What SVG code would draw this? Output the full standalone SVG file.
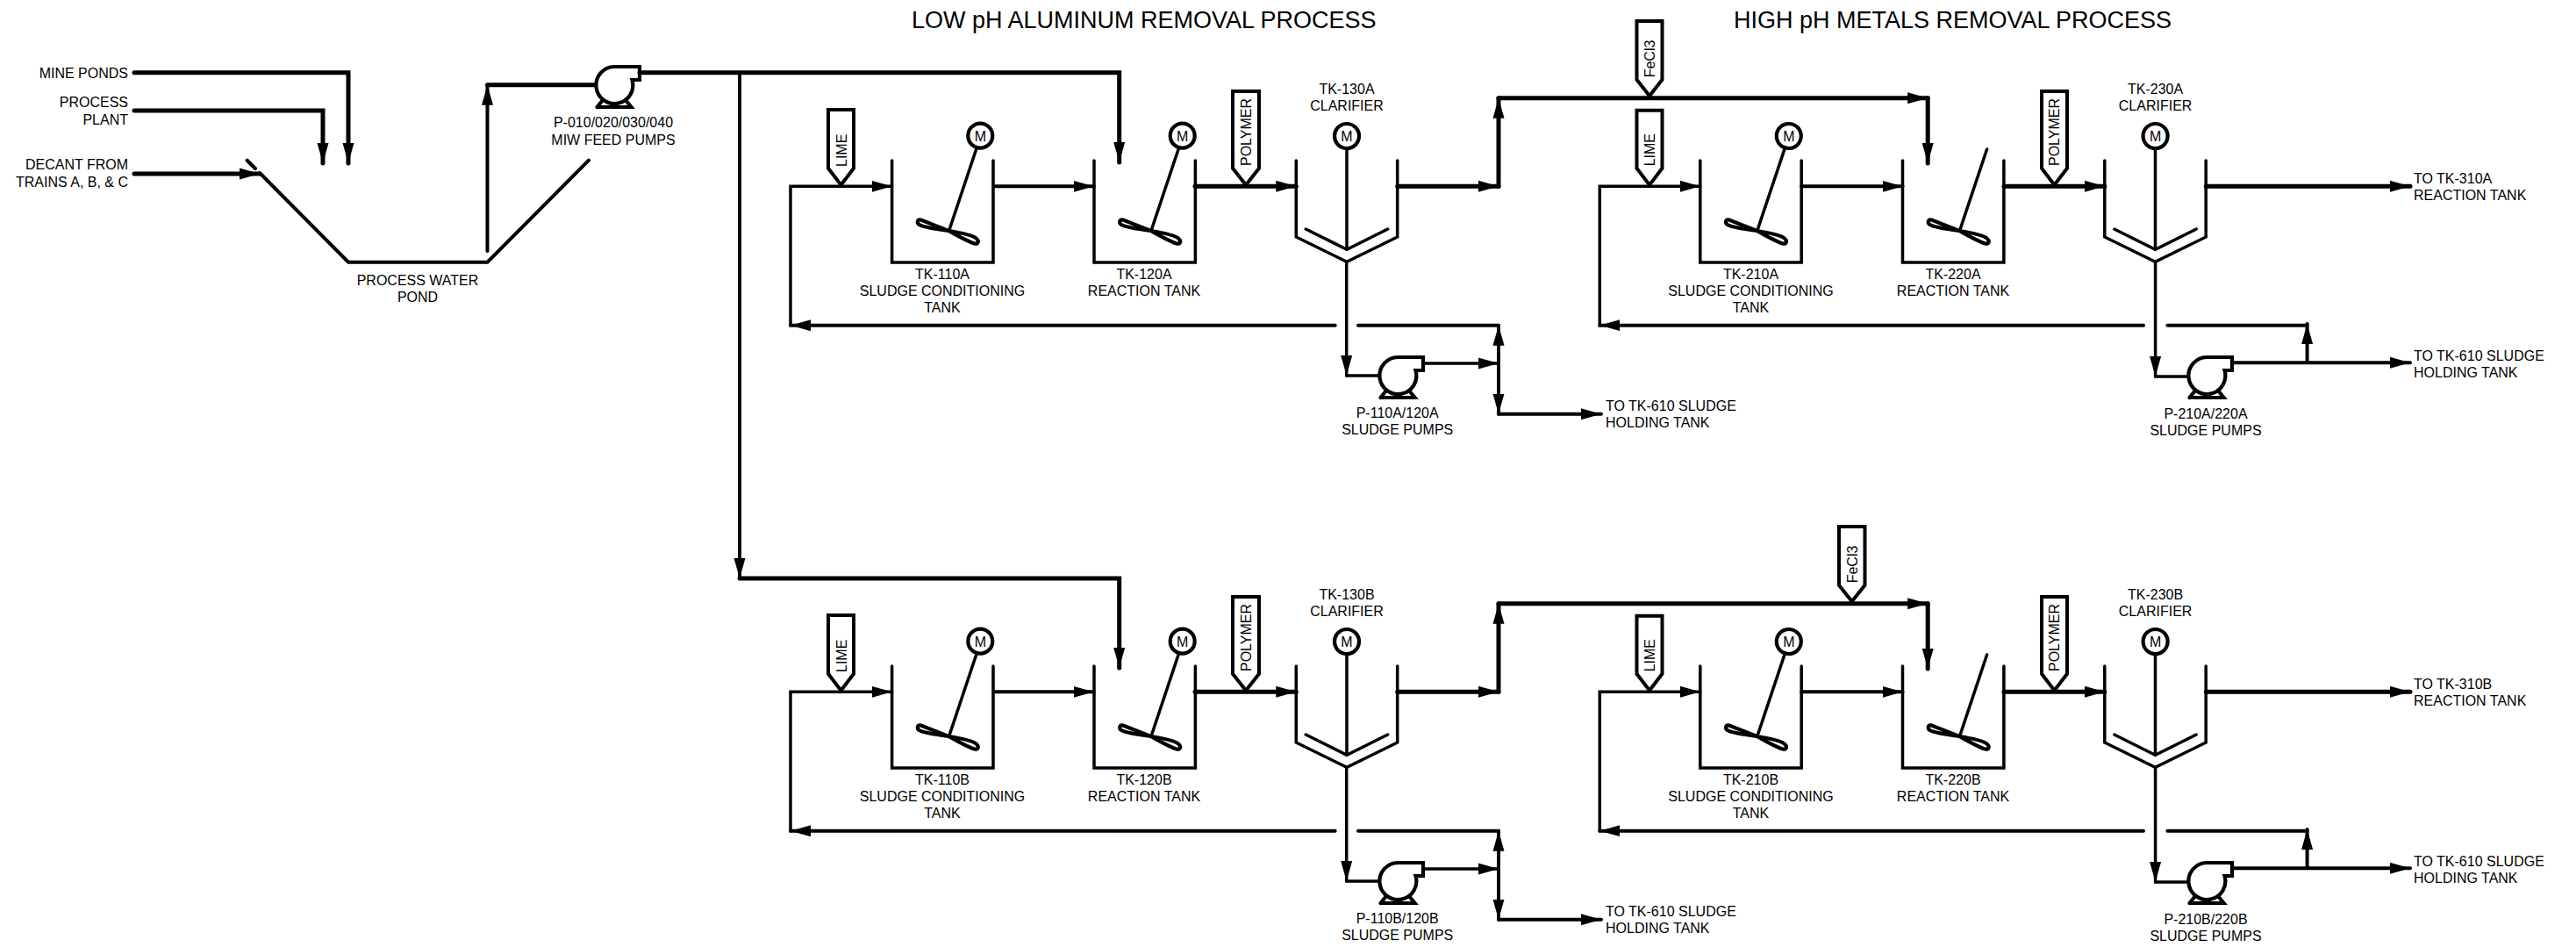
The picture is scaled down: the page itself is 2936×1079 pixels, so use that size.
<svg xmlns="http://www.w3.org/2000/svg" width="2936" height="1079" viewBox="0 0 2936 1079">
<style>
text{font-family:"Liberation Sans",Arial,sans-serif;font-size:16px;fill:#000}
.c{text-anchor:middle}.r{text-anchor:end}.t{font-size:27px}.m{font-size:16px;text-anchor:middle}
.s,.b,.w3,.w4,.w5{fill:none;stroke:#000;stroke-linecap:round;stroke-linejoin:miter}
.s{stroke-width:3.5}.b{stroke-width:4.2}.w3{stroke-width:3.5}.w4{stroke-width:4}.w5{stroke-width:5}
.a{marker-end:url(#arrow)}
.tag{fill:#fff;stroke:#000;stroke-width:4;stroke-linejoin:miter}
</style>
<defs>
<marker id="arrow" markerUnits="userSpaceOnUse" markerWidth="24" markerHeight="14" refX="23" refY="7" orient="auto"><path d="M0 0.5L23 7L0 13.5Z" fill="#000"/></marker>
<g id="tank"><path class="s" d="M0 0V116H115.4V0"/><path class="s" d="M96.1 -13L65.1 79.7"/><path class="b" d="M64.6 80L33 67.5C29 66.5 28 71 31 73C35 75.5 50 78 64.6 80C74 81.5 92 85 96 88.5C100 92 98 95.5 94 94.5C88 93 74 85 64.6 80Z"/></g>
<g id="clarifier"><path class="s" d="M0 0V87L57.7 115.3L115.4 87V0"/><path class="s" d="M11 78L57.7 101.3L104.4 78"/><path class="s" d="M57.7 -13V101"/></g>
<circle id="motor" class="b" r="14"/>
<g id="pump"><path class="b" d="M0 -21H29V-6H20.5A21 21 0 1 1 0 -21"/><path class="b" d="M-19.5 25H19.5L13 17M-19.5 25L-13 17"/></g>
</defs>
<rect width="2936" height="1079" fill="#fff"/>
<text class="t" x="1039" y="31.7">LOW pH ALUMINUM REMOVAL PROCESS</text>
<text class="t" x="1976" y="31.7">HIGH pH METALS REMOVAL PROCESS</text>

<g id="connectors">
<g id="feed">
<path class="w5 a" d="M153 82.7H397V186"/>
<path class="w5 a" d="M153 126H368V186"/>
<path class="w5 a" d="M153 198H296"/>
<path class="w4 a" d="M555.5 286V96.7"/>
<path class="w5" d="M555.5 96.7H678"/>
<path class="w5 a" d="M729 82.7H1275.7V185"/>
<path class="w4 a" d="M843 83V659"/>
<path class="w5 a" d="M843 659H1275.7V761"/>
</g>
<g id="row-a">
<path class="w3 a" d="M901 371V212.3H1016.6"/>
<path class="w4 a" d="M1134.5 212.3H1246.6"/>
<path class="w5 a" d="M1362 212.3H1477.3"/>
<path class="w5 a" d="M1592.7 212.3H1708"/>
<path class="w5 a" d="M1708 212.3V111.7"/>
<path class="w5 a" d="M1708 111.7H2197.2"/>
<path class="w5 a" d="M2197.2 111.7V186"/>
<path class="w3 a" d="M1534.7 298V428"/>
<path class="w3" d="M1534.7 428H1571"/>
<path class="w3 a" d="M1622 414H1708"/>
<path class="w4 a" d="M1708 414V370.7"/>
<path class="w4 a" d="M1708 414V471.7"/>
<path class="w4 a" d="M1708 471.7H1825"/>
<path class="w4" d="M1708 370.7H1548"/>
<path class="w4 a" d="M1521.7 370.7H901"/>
<path class="w3 a" d="M1823.3 371V212.3H1937.8"/>
<path class="w4 a" d="M2053.3 212.3H2168.5"/>
<path class="w5 a" d="M2284 212.3H2398.8"/>
<path class="w5 a" d="M2514.4 212.3H2747"/>
<path class="w3 a" d="M2456.6 298V429"/>
<path class="w3" d="M2456.6 429H2492"/>
<path class="w4 a" d="M2544 413.3H2747"/>
<path class="w4 a" d="M2629.6 413.3V369"/>
<path class="w4" d="M2629.6 370.7H2470.4"/>
<path class="w4 a" d="M2443 370.7H1823.3"/>
</g>
<g id="row-b" transform="translate(0 576)">
<path class="w3 a" d="M901 371V212.3H1016.6"/>
<path class="w4 a" d="M1134.5 212.3H1246.6"/>
<path class="w5 a" d="M1362 212.3H1477.3"/>
<path class="w5 a" d="M1592.7 212.3H1708"/>
<path class="w5 a" d="M1708 212.3V111.7"/>
<path class="w5 a" d="M1708 111.7H2197.2"/>
<path class="w5 a" d="M2197.2 111.7V186"/>
<path class="w3 a" d="M1534.7 298V428"/>
<path class="w3" d="M1534.7 428H1571"/>
<path class="w3 a" d="M1622 414H1708"/>
<path class="w4 a" d="M1708 414V370.7"/>
<path class="w4 a" d="M1708 414V471.7"/>
<path class="w4 a" d="M1708 471.7H1825"/>
<path class="w4" d="M1708 370.7H1548"/>
<path class="w4 a" d="M1521.7 370.7H901"/>
<path class="w3 a" d="M1823.3 371V212.3H1937.8"/>
<path class="w4 a" d="M2053.3 212.3H2168.5"/>
<path class="w5 a" d="M2284 212.3H2398.8"/>
<path class="w5 a" d="M2514.4 212.3H2747"/>
<path class="w3 a" d="M2456.6 298V429"/>
<path class="w3" d="M2456.6 429H2492"/>
<path class="w4 a" d="M2544 413.3H2747"/>
<path class="w4 a" d="M2629.6 413.3V369"/>
<path class="w4" d="M2629.6 370.7H2470.4"/>
<path class="w4 a" d="M2443 370.7H1823.3"/>
</g>
</g>

<g id="source-labels">
<text class="r" x="146" y="88.7">MINE PONDS</text>
<text class="r" x="146" y="122">PROCESS</text>
<text class="r" x="146" y="142">PLANT</text>
<text class="r" x="146" y="193.3">DECANT FROM</text>
<text class="r" x="146" y="212.7">TRAINS A, B, &amp; C</text>
</g>
<g id="pond">
<path class="b" d="M281.7 182.7L291 192"/>
<path class="w4" d="M296 197L397 298.7H555.5L671 182.7"/>
<text class="c" x="476" y="325">PROCESS WATER</text>
<text class="c" x="476" y="344">POND</text>
</g>
<g id="P-010"><use href="#pump" x="700" y="97"/>
<text class="c" x="699" y="145">P-010/020/030/040</text>
<text class="c" x="699" y="165">MIW FEED PUMPS</text></g>

<!-- Row A -->
<g id="tag-lime-110A"><path class="tag" d="M944 125H973V191.7L958.5 210.7L944 191.7Z"/><text transform="translate(964.5 190) rotate(-90)">LIME</text></g>
<g id="TK-110A"><use href="#tank" x="1016.6" y="183"/><use href="#motor" x="1117.3" y="154.7"/><text class="m" x="1117.3" y="160.5">M</text>
<text class="c" x="1074" y="318.3">TK-110A</text><text class="c" x="1074" y="337.3">SLUDGE CONDITIONING</text><text class="c" x="1074" y="356">TANK</text></g>
<g id="TK-120A"><use href="#tank" x="1247" y="183"/><use href="#motor" x="1347.7" y="154.7"/><text class="m" x="1347.7" y="160.5">M</text>
<text class="c" x="1304" y="318.3">TK-120A</text><text class="c" x="1304" y="337.3">REACTION TANK</text></g>
<g id="tag-polymer-120A"><path class="tag" d="M1405 104H1435V191.7L1420 210.7L1405 191.7Z"/><text transform="translate(1425.5 189) rotate(-90)">POLYMER</text></g>
<g id="TK-130A"><use href="#clarifier" x="1477.3" y="183"/><use href="#motor" x="1535" y="155"/><text class="m" x="1535" y="160.8">M</text>
<text class="c" x="1535" y="106.7">TK-130A</text><text class="c" x="1535" y="126">CLARIFIER</text></g>
<g id="P-110A"><use href="#pump" x="1593" y="428"/>
<text class="c" x="1592.7" y="476">P-110A/120A</text><text class="c" x="1592.7" y="495.3">SLUDGE PUMPS</text></g>
<g id="to-TK-610-110A"><text x="1830" y="468">TO TK-610 SLUDGE</text><text x="1830" y="486.7">HOLDING TANK</text></g>
<g id="tag-fecl3-A"><path class="tag" d="M1865.5 24H1894.5V90.7L1880 109.3L1865.5 90.7Z"/><text transform="translate(1886 88.3) rotate(-90)">FeCl3</text></g>
<g id="tag-lime-210A"><path class="tag" d="M1865.5 125.7H1894.5V191.7L1880 210.7L1865.5 191.7Z"/><text transform="translate(1886 189.3) rotate(-90)">LIME</text></g>
<g id="TK-210A"><use href="#tank" x="1937.8" y="183"/><use href="#motor" x="2038.8" y="155"/><text class="m" x="2038.8" y="160.8">M</text>
<text class="c" x="1995.5" y="318.3">TK-210A</text><text class="c" x="1995.5" y="337.3">SLUDGE CONDITIONING</text><text class="c" x="1995.5" y="356">TANK</text></g>
<g id="TK-220A"><use href="#tank" x="2168.5" y="183"/>
<text class="c" x="2226" y="318.3">TK-220A</text><text class="c" x="2226" y="337.3">REACTION TANK</text></g>
<g id="tag-polymer-220A"><path class="tag" d="M2327 104H2356V191.7L2341.5 210.7L2327 191.7Z"/><text transform="translate(2347 189) rotate(-90)">POLYMER</text></g>
<g id="TK-230A"><use href="#clarifier" x="2398.8" y="183"/><use href="#motor" x="2456.6" y="155"/><text class="m" x="2456.6" y="160.8">M</text>
<text class="c" x="2456.6" y="106.7">TK-230A</text><text class="c" x="2456.6" y="126">CLARIFIER</text></g>
<g id="P-210A"><use href="#pump" x="2515" y="428"/>
<text class="c" x="2514" y="476.7">P-210A/220A</text><text class="c" x="2514" y="496">SLUDGE PUMPS</text></g>
<g id="to-TK-310A"><text x="2751" y="209">TO TK-310A</text><text x="2751" y="228">REACTION TANK</text></g>
<g id="to-TK-610-210A"><text x="2751" y="410.7">TO TK-610 SLUDGE</text><text x="2751" y="430">HOLDING TANK</text></g>

<!-- Row B -->
<g id="tag-lime-110B"><path class="tag" d="M944 701H973V767.7L958.5 786.7L944 767.7Z"/><text transform="translate(964.5 766) rotate(-90)">LIME</text></g>
<g id="TK-110B"><use href="#tank" x="1016.6" y="759"/><use href="#motor" x="1117.3" y="730.7"/><text class="m" x="1117.3" y="736.5">M</text>
<text class="c" x="1074" y="894.3">TK-110B</text><text class="c" x="1074" y="913.3">SLUDGE CONDITIONING</text><text class="c" x="1074" y="932">TANK</text></g>
<g id="TK-120B"><use href="#tank" x="1247" y="759"/><use href="#motor" x="1347.7" y="730.7"/><text class="m" x="1347.7" y="736.5">M</text>
<text class="c" x="1304" y="894.3">TK-120B</text><text class="c" x="1304" y="913.3">REACTION TANK</text></g>
<g id="tag-polymer-120B"><path class="tag" d="M1405 680H1435V767.7L1420 786.7L1405 767.7Z"/><text transform="translate(1425.5 765) rotate(-90)">POLYMER</text></g>
<g id="TK-130B"><use href="#clarifier" x="1477.3" y="759"/><use href="#motor" x="1535" y="731"/><text class="m" x="1535" y="736.8">M</text>
<text class="c" x="1535" y="682.7">TK-130B</text><text class="c" x="1535" y="702">CLARIFIER</text></g>
<g id="P-110B"><use href="#pump" x="1593" y="1004"/>
<text class="c" x="1592.7" y="1052">P-110B/120B</text><text class="c" x="1592.7" y="1071.3">SLUDGE PUMPS</text></g>
<g id="to-TK-610-110B"><text x="1830" y="1044">TO TK-610 SLUDGE</text><text x="1830" y="1062.7">HOLDING TANK</text></g>
<g id="tag-fecl3-B"><path class="tag" d="M2096 600H2125.5V666.7L2110.7 685.3L2096 666.7Z"/><text transform="translate(2116.6 664.3) rotate(-90)">FeCl3</text></g>
<g id="tag-lime-210B"><path class="tag" d="M1865.5 701.7H1894.5V767.7L1880 786.7L1865.5 767.7Z"/><text transform="translate(1886 765.3) rotate(-90)">LIME</text></g>
<g id="TK-210B"><use href="#tank" x="1937.8" y="759"/><use href="#motor" x="2038.8" y="731"/><text class="m" x="2038.8" y="736.8">M</text>
<text class="c" x="1995.5" y="894.3">TK-210B</text><text class="c" x="1995.5" y="913.3">SLUDGE CONDITIONING</text><text class="c" x="1995.5" y="932">TANK</text></g>
<g id="TK-220B"><use href="#tank" x="2168.5" y="759"/>
<text class="c" x="2226" y="894.3">TK-220B</text><text class="c" x="2226" y="913.3">REACTION TANK</text></g>
<g id="tag-polymer-220B"><path class="tag" d="M2327 680H2356V767.7L2341.5 786.7L2327 767.7Z"/><text transform="translate(2347 765) rotate(-90)">POLYMER</text></g>
<g id="TK-230B"><use href="#clarifier" x="2398.8" y="759"/><use href="#motor" x="2456.6" y="731"/><text class="m" x="2456.6" y="736.8">M</text>
<text class="c" x="2456.6" y="682.7">TK-230B</text><text class="c" x="2456.6" y="702">CLARIFIER</text></g>
<g id="P-210B"><use href="#pump" x="2515" y="1004"/>
<text class="c" x="2514" y="1052.7">P-210B/220B</text><text class="c" x="2514" y="1072">SLUDGE PUMPS</text></g>
<g id="to-TK-310B"><text x="2751" y="785">TO TK-310B</text><text x="2751" y="804">REACTION TANK</text></g>
<g id="to-TK-610-210B"><text x="2751" y="986.7">TO TK-610 SLUDGE</text><text x="2751" y="1006">HOLDING TANK</text></g>
</svg>
